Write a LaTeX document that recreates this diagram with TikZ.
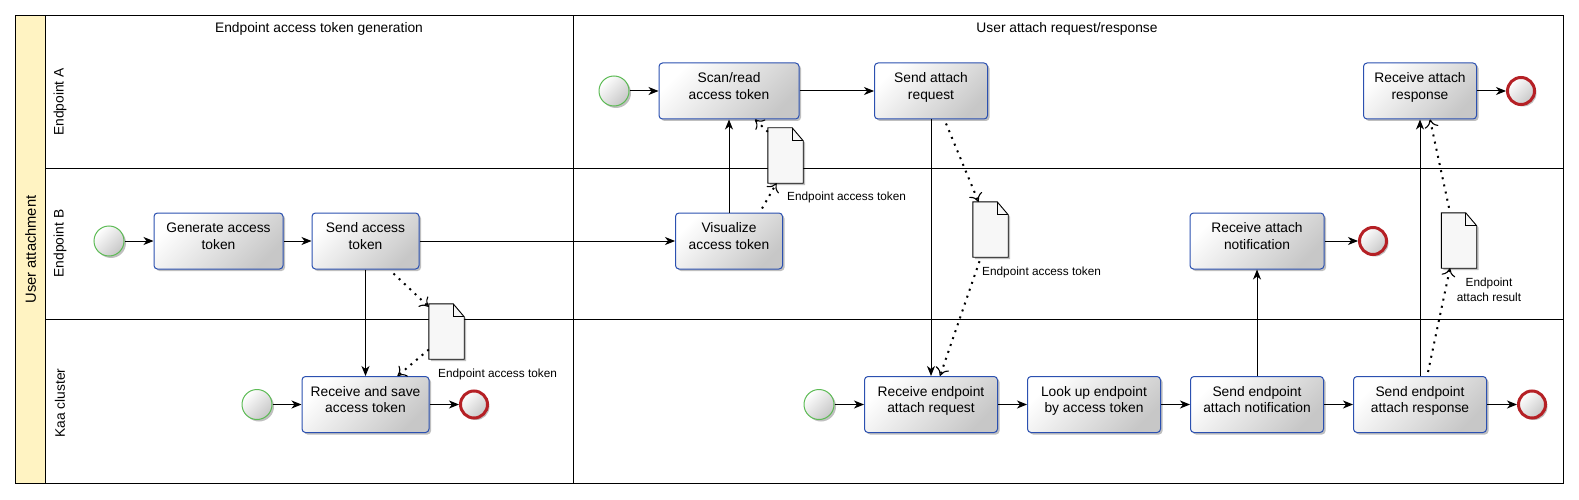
\documentclass[tikz,border=0pt]{standalone}
\usepackage{fontspec}
\setmainfont{Liberation Sans}
\usetikzlibrary{arrows.meta,shadows}
\definecolor{taskblue}{HTML}{2B50B0}
\definecolor{startgreen}{HTML}{5DBB55}
\definecolor{endred}{HTML}{B52025}
\definecolor{poolyellow}{HTML}{FFF3C2}
\tikzset{
  softshadow/.style={drop shadow={shadow xshift=2pt, shadow yshift=-2pt, opacity=0.25, fill=black}},
  task/.style={draw=taskblue, line width=1pt, rounded corners=3.5pt, top color=white, bottom color=black!22, shading angle=45,
    minimum height=56pt, inner sep=2pt, text depth=10pt, align=center, font=\fontsize{13.8}{16.7}\selectfont, softshadow},
  startev/.style={circle, draw=startgreen, line width=1pt, top color=white, bottom color=black!22, shading angle=45,
    minimum size=30pt, inner sep=0pt, softshadow},
  endev/.style={circle, draw=endred, line width=3pt, top color=white, bottom color=black!22, shading angle=45,
    minimum size=27pt, inner sep=0pt, softshadow},
  docbox/.style={minimum width=35pt, minimum height=55pt, inner sep=0pt},
  docline/.style={draw=black, line width=0.9pt, fill=black!3},
  doclabel/.style={anchor=west, inner sep=0pt, align=center, font=\fontsize{11.8}{14.6}\selectfont},
  lanelabel/.style={rotate=90, font=\fontsize{13.8}{16.7}\selectfont},
  header/.style={font=\fontsize{13.8}{16.7}\selectfont},
  flow/.style={-{Stealth[length=10pt,width=8pt,inset=3pt]}, line width=1pt},
  assoc/.style={-{Computer Modern Rightarrow[length=8pt,width=14pt,line width=1.1pt]}, line width=2pt, dash pattern=on 2pt off 5.3pt},
}
% data object with folded corner
\newcommand{\datadoc}[2]{%
  \node[docbox] (#1) at (#2) {};
  \draw[docline, softshadow] (#1.north west) -- ([xshift=-11pt]#1.north east) -- ([yshift=-13pt]#1.north east)
    -- (#1.south east) -- (#1.south west) -- cycle;
  \draw[docline, fill=none] ([xshift=-11pt]#1.north east) |- ([yshift=-13pt]#1.north east);}
\begin{document}
\begin{tikzpicture}[x=1pt, y=-1pt]
\useasboundingbox (0,0) rectangle (1579,500);
\fill[white] (0,0) rectangle (1579,500);
% pool and lanes
\fill[poolyellow] (15,16) rectangle (45,483);
\draw[line width=1pt] (15,16) rectangle (1563,483);
\draw[line width=1pt] (45,16) -- (45,483);
\draw[line width=1pt] (573,16) -- (573,483);
\draw[line width=1pt] (45,168) -- (1563,168);
\draw[line width=1pt] (45,319) -- (1563,319);
\node[rotate=90, font=\fontsize{14.7}{17}\selectfont] (pool) at (30.5,249.5) {User attachment};
\node[lanelabel] (laneA) at (60,102) {Endpoint A};
\node[lanelabel] (laneB) at (60,243.5) {Endpoint B};
\node[lanelabel] (laneK) at (60,403) {Kaa cluster};
\node[header] (phaseGen) at (319,29) {Endpoint access token generation};
\node[header] (phaseAtt) at (1067,29) {User attach request/response};

% Endpoint A
\node[startev] (startA) at (614,91) {};
\node[task, minimum width=140pt] (scanTok) at (729,91) {Scan/read\\access token};
\node[task, minimum width=113pt] (sendReq) at (931,91) {Send attach\\request};
\node[task, minimum width=113pt] (recvResp) at (1420,91) {Receive attach\\response};
\node[endev] (endA) at (1521,91) {};

% Endpoint B
\node[startev] (startB) at (109,241) {};
\node[task, minimum width=129pt] (genTok) at (218.5,241) {Generate access\\token};
\node[task, minimum width=107pt] (sendTok) at (365.5,241) {Send access\\token};
\node[task, minimum width=107pt] (visTok) at (729,241) {Visualize\\access token};
\node[task, minimum width=134pt] (recvNot) at (1257,241) {Receive attach\\notification};
\node[endev] (endB) at (1373,241) {};

% Kaa cluster
\node[startev] (startK1) at (257,404.5) {};
\node[task, minimum width=127pt] (recvSave) at (365.5,404.5) {Receive and save\\access token};
\node[endev] (endK1) at (474,404.5) {};
\node[startev] (startK2) at (819,404.5) {};
\node[task, minimum width=133pt] (recvReq) at (931,404.5) {Receive endpoint\\attach request};
\node[task, minimum width=133pt] (lookUp) at (1094,404.5) {Look up endpoint\\by access token};
\node[task, minimum width=133pt] (sendNot) at (1257,404.5) {Send endpoint\\attach notification};
\node[task, minimum width=133pt] (sendResp) at (1420,404.5) {Send endpoint\\attach response};
\node[endev] (endK2) at (1532,404.5) {};

% data objects
\datadoc{docVis}{785.5,155.5}
\datadoc{docSend}{446.5,331.5}
\datadoc{docReq}{990.5,229.5}
\datadoc{docResp}{1459,240.5}
\node[doclabel] (lblVis) at (787,197) {Endpoint access token};
\node[doclabel] (lblSend) at (438,374) {Endpoint access token};
\node[doclabel] (lblReq) at (982,272) {Endpoint access token};
\node[doclabel, anchor=center] (lblResp) at (1489,289.5) {Endpoint\\attach result};

% sequence flows
\draw[flow] (startA) -- (scanTok);
\draw[flow] (scanTok) -- (sendReq);
\draw[flow] (recvResp) -- (endA);
\draw[flow] (startB) -- (genTok);
\draw[flow] (genTok) -- (sendTok);
\draw[flow] (sendTok) -- (visTok);
\draw[flow] (sendTok) -- (recvSave);
\draw[flow] (visTok) -- (scanTok);
\draw[flow] (recvNot) -- (endB);
\draw[flow] (startK1) -- (recvSave);
\draw[flow] (recvSave) -- (endK1);
\draw[flow] (sendReq) -- (recvReq);
\draw[flow] (startK2) -- (recvReq);
\draw[flow] (recvReq) -- (lookUp);
\draw[flow] (lookUp) -- (sendNot);
\draw[flow] (sendNot) -- (sendResp);
\draw[flow] (sendResp) -- (endK2);
\draw[flow] (sendNot) -- (recvNot);
\draw[flow] (sendResp) -- (recvResp);

% data associations
\draw[assoc] ([xshift=28pt,yshift=-4pt]sendTok.south) -- ([yshift=-3pt]docSend.north west);
\draw[assoc] ([yshift=-18pt]docSend.west) -- ([xshift=32pt]recvSave.north);
\draw[assoc] ([xshift=33pt,yshift=4pt]visTok.north) -- ([xshift=-9pt]docVis.south);
\draw[assoc] ([yshift=-4pt]docVis.north west) -- ([xshift=26pt]scanTok.south);
\draw[assoc] ([xshift=15pt,yshift=-4pt]sendReq.south) -- ([xshift=-12pt]docReq.north);
\draw[assoc] ([xshift=-11pt,yshift=-4pt]docReq.south) -- ([xshift=9pt]recvReq.north);
\draw[assoc] ([xshift=8pt,yshift=4pt]sendResp.north) -- ([xshift=-9pt]docResp.south);
\draw[assoc] ([xshift=-10pt,yshift=5pt]docResp.north) -- ([xshift=10pt]recvResp.south);
\end{tikzpicture}
\end{document}
